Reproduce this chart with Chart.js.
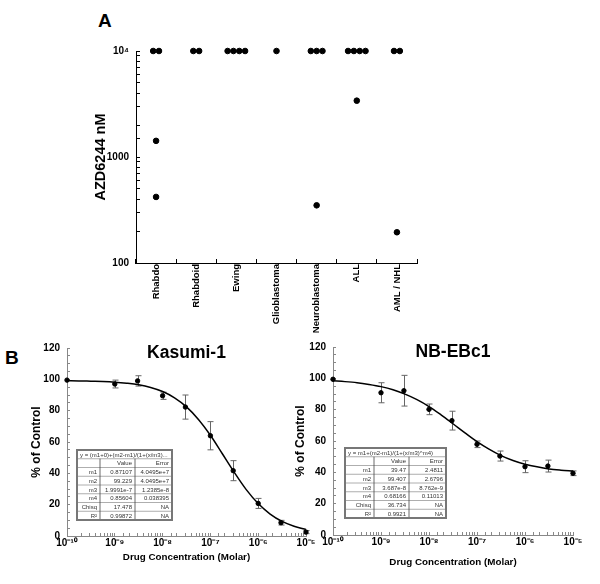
<!DOCTYPE html>
<html>
<head>
<meta charset="utf-8">
<script src="https://cdn.jsdelivr.net/npm/chart.js@4.4.1/dist/chart.umd.min.js"></script>
<style>
  body { margin: 0; background: #fff; width: 600px; height: 584px; position: relative; overflow: hidden; font-family: 'Liberation Sans', Arial, sans-serif; }
  canvas { position: absolute; }
  .panel { position: absolute; font-weight: bold; font-size: 19px; color: #000; }
</style>
</head>
<body>
<div class="panel" style="left:98px;top:10px">A</div>
<div class="panel" style="left:5px;top:347px">B</div>
<canvas id="chartA" width="600" height="345" style="left:0;top:0"></canvas>
<canvas id="chartKasumi" width="320" height="254" style="left:0;top:330px"></canvas>
<canvas id="chartNB" width="315" height="254" style="left:285px;top:330px"></canvas>
<script>
// panel A - IC50 per tumour type (nM), 10^4 = not reached
const categories = ['Rhabdo', 'Rhabdoid', 'Ewing', 'Glioblastoma', 'Neuroblastoma', 'ALL', 'AML / NHL']
const rhabdoIC50 = [10000, 10000, 1420, 420]
const rhabdoidIC50 = [10000, 10000]
const ewingIC50 = [10000, 10000, 10000, 10000]
const glioblastomaIC50 = [10000]
const neuroblastomaIC50 = [10000, 10000, 10000, 350]
const allIC50 = [10000, 10000, 10000, 10000, 3400]
const amlNhlIC50 = [10000, 10000, 195]
const yTicksA = [100, 1000, 10000]

// panel B - dose response
const concentrations = [1e-10, 1e-9, 3e-9, 1e-8, 3e-8, 1e-7, 3e-7, 1e-6, 3e-6, 1e-5]
const kasumiMean = [99.5, 97, 99, 89.5, 82.3, 64, 41.7, 20.8, 8.5, 2.5]
const kasumiErr = [0, 2.5, 3.3, 2.3, 7.7, 9, 6.4, 3.2, 1.5, 1]
const nbMean = [99.4, 90.8, 92.1, 80.2, 73, 57.9, 50.4, 43.6, 44, 39.4]
const nbErr = [0, 6.4, 9.8, 3.4, 6, 2.1, 3.2, 3.8, 3.8, 1.5]

const fitConc = [1e-10, 1.778e-10, 3.162e-10, 5.623e-10, 1e-9, 1.778e-9, 3.162e-9, 5.623e-9, 1e-8, 1.778e-8, 3.162e-8,
                 5.623e-8, 1e-7, 1.778e-7, 3.162e-7, 5.623e-7, 1e-6, 1.778e-6, 3.162e-6, 5.623e-6, 1e-5]
const kasumiFit = [99.1, 99.0, 98.8, 98.6, 98.2, 97.5, 96.5, 94.8, 92.2, 88.2, 82.4, 74.4, 64.3, 52.5, 40.6, 29.6, 20.7, 14.0, 9.3, 6.2, 4.2]
const nbFit = [98.4, 97.9, 97.2, 96.1, 94.7, 92.7, 89.9, 86.4, 82.0, 76.7, 71.0, 65.2, 59.6, 54.8, 50.7, 47.6, 45.2, 43.5, 42.2, 41.4, 40.8]

const kasumiFormula = 'y = (m1+0)+(m2-m1)/(1+(x/m3)...'
const kasumiTable = [['m1', '0.87107', '4.0495e+7'], ['m2', '99.229', '4.0495e+7'], ['m3', '1.9991e-7', '1.2385e-8'],
                     ['m4', '0.85604', '0.038395'], ['Chisq', '17.478', 'NA'], ['R²', '0.99872', 'NA']]
const nbFormula = 'y = m1+(m2-m1)/(1+(x/m3)^m4)'
const nbTable = [['m1', '39.47', '2.4811'], ['m2', '99.407', '2.6796'], ['m3', '3.687e-8', '8.762e-9'],
                 ['m4', '0.68166', '0.11013'], ['Chisq', '36.734', 'NA'], ['R²', '0.9921', 'NA']]

const FONT = "'Liberation Sans', Arial, sans-serif"
const SUP = {'-': '⁻', '0': '⁰', '1': '¹', '2': '²', '3': '³', '4': '⁴', '5': '⁵', '6': '⁶', '7': '⁷', '8': '⁸', '9': '⁹'}

function isDecade(v) {
  const l = Math.log10(v)
  return Math.abs(l - Math.round(l)) < 1e-6
}
function powerLabel(v) {
  return '10' + String(Math.round(Math.log10(v))).split('').map(function(c){ return SUP[c] }).join('')
}

// ---------- panel A ----------
const groups = [rhabdoIC50, rhabdoidIC50, ewingIC50, glioblastomaIC50, neuroblastomaIC50, allIC50, amlNhlIC50]
const dotPoints = []
groups.forEach(function(vals, i) {
  const seen = {}
  vals.forEach(function(v) {
    const n = vals.filter(function(w){ return w === v }).length
    const k = seen[v] || 0
    seen[v] = k + 1
    dotPoints.push({x: i + (k - (n - 1) / 2) * 0.145, y: v})
  })
})

new Chart(document.getElementById('chartA'), {
  type: 'scatter',
  data: {
    datasets: [{
      data: dotPoints,
      xAxisID: 'xj',
      backgroundColor: '#000',
      borderColor: '#000',
      pointRadius: 2.8,
      clip: false
    }]
  },
  options: {
    responsive: false,
    animation: false,
    layout: { padding: { left: 0, right: 183, top: 51, bottom: 0 } },
    plugins: { legend: { display: false }, tooltip: { enabled: false } },
    scales: {
      x: {
        type: 'category',
        labels: categories,
        offset: true,
        grid: { offset: true, drawOnChartArea: false, tickLength: -4, color: '#000' },
        border: { color: '#000', width: 1 },
        ticks: { minRotation: 90, maxRotation: 90, autoSkip: false, padding: 5, color: '#000',
                 font: { family: FONT, size: 9.5, weight: 'bold' } },
        afterFit: function(s) { s.height = 82 }
      },
      xj: { type: 'linear', min: -0.5, max: 6.5, display: false },
      y: {
        type: 'logarithmic',
        min: 100,
        max: 10000,
        grid: { drawOnChartArea: false, tickLength: -4, color: '#000' },
        border: { color: '#000', width: 1 },
        ticks: {
          autoSkip: false, padding: 11, color: '#000',
          font: { family: FONT, size: 10, weight: 'bold' },
          callback: function(v) {
            if (!yTicksA.includes(v)) return ''
            return v === 10000 ? '10⁴' : String(v)
          }
        },
        title: { display: true, text: 'AZD6244 nM', color: '#000',
                 font: { family: FONT, size: 14.5, weight: 'bold' }, padding: { top: 92, bottom: 0 } },
        afterFit: function(s) { s.width = 136 }
      }
    }
  }
})

// ---------- panel B ----------
const errorBars = {
  id: 'errorBars',
  beforeDatasetsDraw: function(chart) {
    const ctx = chart.ctx, xs = chart.scales.x, ys = chart.scales.y
    chart.data.datasets.forEach(function(ds) {
      if (!ds.errors) return
      ctx.save()
      ctx.strokeStyle = '#666'
      ctx.lineWidth = 1
      ds.data.forEach(function(p, i) {
        const e = ds.errors[i]
        if (!e) return
        const px = Math.round(xs.getPixelForValue(p.x)) + 0.5
        const top = ys.getPixelForValue(p.y + e), bot = ys.getPixelForValue(p.y - e)
        ctx.beginPath()
        ctx.moveTo(px, top); ctx.lineTo(px, bot)
        ctx.moveTo(px - 3, top); ctx.lineTo(px + 3, top)
        ctx.moveTo(px - 3, bot); ctx.lineTo(px + 3, bot)
        ctx.stroke()
      })
      ctx.restore()
    })
  }
}

function makeTitlePlugin(text) {
  return {
    id: 'panelTitle',
    afterDraw: function(chart) {
      const ctx = chart.ctx, a = chart.chartArea
      ctx.save()
      ctx.font = 'bold 17.5px ' + FONT
      ctx.fillStyle = '#000'
      ctx.textAlign = 'center'
      ctx.textBaseline = 'alphabetic'
      ctx.fillText(text, (a.left + a.right) / 2, a.top + 10)
      ctx.restore()
    }
  }
}

function makeTablePlugin(formula, rows, dx, dy, cols) {
  return {
    id: 'fitTable',
    afterDatasetsDraw: function(chart) {
      const ctx = chart.ctx, a = chart.chartArea
      const x0 = a.left + dx, y0 = a.top + dy
      const w = cols[0] + cols[1] + cols[2]
      const rh = 8.75
      const h = rh * (rows.length + 2)
      ctx.save()
      ctx.fillStyle = '#fff'
      ctx.fillRect(x0, y0, w, h)
      ctx.font = '6px ' + FONT
      ctx.fillStyle = '#333'
      ctx.textBaseline = 'middle'
      ctx.textAlign = 'left'
      ctx.fillText(formula, x0 + 3, y0 + rh / 2 + 0.5, w - 5)
      ctx.textAlign = 'right'
      ctx.fillText('Value', x0 + cols[0] + cols[1] - 3, y0 + rh * 1.5 + 0.5)
      ctx.fillText('Error', x0 + w - 3, y0 + rh * 1.5 + 0.5)
      rows.forEach(function(r, i) {
        const cy = y0 + rh * (i + 2.5) + 0.5
        ctx.fillText(r[0], x0 + cols[0] - 3, cy)
        ctx.fillText(r[1], x0 + cols[0] + cols[1] - 3, cy)
        ctx.fillText(r[2], x0 + w - 3, cy)
      })
      // grid lines
      ctx.strokeStyle = '#999'
      ctx.lineWidth = 0.8
      ctx.beginPath()
      for (let i = 1; i < rows.length + 2; i++) {
        ctx.moveTo(x0, y0 + rh * i); ctx.lineTo(x0 + w, y0 + rh * i)
      }
      ctx.stroke()
      ctx.strokeStyle = '#444'
      ctx.beginPath()
      ctx.moveTo(x0 + cols[0], y0 + rh); ctx.lineTo(x0 + cols[0], y0 + h)
      ctx.moveTo(x0 + cols[0] + cols[1], y0 + rh); ctx.lineTo(x0 + cols[0] + cols[1], y0 + h)
      ctx.stroke()
      ctx.strokeStyle = '#777'
      ctx.lineWidth = 2
      ctx.strokeRect(x0, y0, w, h)
      ctx.restore()
    }
  }
}

function renderCurve(id, title, mean, err, fit, formula, rows, lay) {
  const ctx = document.getElementById(id)
  new Chart(ctx, {
    type: 'scatter',
    data: {
      datasets: [{
        data: concentrations.map(function(c, i){ return {x: c, y: mean[i]} }),
        errors: err,
        backgroundColor: '#000',
        borderColor: '#000',
        pointRadius: 2.2,
        clip: false
      }, {
        data: fitConc.map(function(c, i){ return {x: c, y: fit[i]} }),
        showLine: true,
        cubicInterpolationMode: 'monotone',
        borderColor: '#000',
        borderWidth: 1.5,
        pointRadius: 0,
        clip: false
      }]
    },
    options: {
      responsive: false,
      animation: false,
      layout: { padding: { left: 0, right: lay.right, top: lay.top, bottom: 0 } },
      plugins: { legend: { display: false }, tooltip: { enabled: false } },
      scales: {
        x: {
          type: 'logarithmic',
          min: 1e-10,
          max: 1e-5,
          grid: { drawOnChartArea: false, tickLength: -3, color: '#888' },
          border: { color: '#888', width: 1 },
          ticks: {
            autoSkip: false, maxRotation: 0, padding: 4, color: '#000',
            font: { family: FONT, size: 10, weight: 'bold' },
            callback: function(v) { return isDecade(v) ? powerLabel(v) : '' }
          },
          title: { display: true, text: 'Drug Concentration (Molar)', color: '#000',
                   font: { family: FONT, size: 9.8, weight: 'bold' }, padding: { top: 0, bottom: lay.xTitle } },
          afterFit: function(s) { s.height = lay.xHeight }
        },
        y: {
          min: 0,
          max: 120,
          grid: { drawOnChartArea: false, tickLength: -3, color: '#888' },
          border: { color: '#888', width: 1 },
          ticks: {
            stepSize: 5, autoSkip: false, padding: 10, color: '#000',
            font: { family: FONT, size: 10, weight: 'bold' },
            callback: function(v) { return v % 20 === 0 ? v : '' }
          },
          title: { display: true, text: '% of Control', color: '#000',
                   font: { family: FONT, size: 12, weight: 'bold' }, padding: { top: lay.yTitle, bottom: 0 } },
          afterFit: function(s) { s.width = lay.yWidth }
        }
      }
    },
    plugins: [errorBars, makeTablePlugin(formula, rows, lay.tx, lay.ty, lay.cols), makeTitlePlugin(title)]
  })
}

renderCurve('chartKasumi', 'Kasumi-1', kasumiMean, kasumiErr, kasumiFit, kasumiFormula, kasumiTable,
  { right: 14, top: 18, yWidth: 67, xHeight: 48, yTitle: 29.8, xTitle: 21.1, tx: 10, ty: 102, cols: [23, 35, 37] })
renderCurve('chartNB', 'NB-EBc1', nbMean, nbErr, nbFit, nbFormula, nbTable,
  { right: 27, top: 17, yWidth: 48, xHeight: 49, yTitle: 8.5, xTitle: 16.1, tx: 12, ty: 101, cols: [29, 35, 37] })
</script>
</body>
</html>
